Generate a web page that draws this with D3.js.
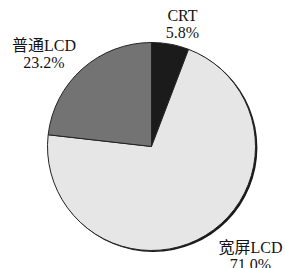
<!DOCTYPE html>
<html>
<head>
<meta charset="utf-8">
<script src="https://cdn.jsdelivr.net/npm/d3@7"></script>
<style>
  html, body { margin: 0; padding: 0; background: #fff; }
  svg { display: block; }
  .label { font-family: "Liberation Serif", "Times New Roman", "DejaVu Serif", "Noto Sans CJK SC", serif; font-size: 16px; fill: #141414; }
</style>
</head>
<body>
<svg id="chart"></svg>
<script>
'use strict';

// datos del grafico
var categories = ['CRT', '宽屏LCD', '普通LCD'];
var values = [5.8, 71.0, 23.2];
var percentLabels = ['5.8%', '71.0%', '23.2%'];

function pieChart() {
    var width = 285;
    var height = 268;
    var cx = 151.5;
    var cy = 146.5;
    var radius = 104;
    var colors = d3.scaleOrdinal().domain(categories).range(['#1b1b1b', '#e6e6e6', '#737373']);

    // posicion de cada etiqueta respecto al centro
    var labelPos = {
        'CRT': [31, -125.5],
        '宽屏LCD': [99, 106.5],
        '普通LCD': [-107.5, -95.5]
    };

    var svg = d3.select('#chart').attr('width', width).attr('height', height);

    var g = svg.append('g').attr('transform', 'translate(' + cx + ',' + cy + ')');

    //sombra en el borde derecho
    g.append('circle').attr('cx', 1.6).attr('cy', 1.2).attr('r', radius + 0.3).attr('fill', '#1a1a1a');

    var pie = d3.pie().sort(null).value(function (d) {
        return d.value;
    });

    var arc = d3.arc().innerRadius(0).outerRadius(radius);

    var data = categories.map(function (c, i) {
        return { name: c, value: values[i], pct: percentLabels[i] };
    });

    g.selectAll('.slice').data(pie(data)).enter().append('path')
        .attr('class', 'slice')
        .attr('d', arc)
        .attr('fill', function (d) { return colors(d.data.name); })
        .attr('stroke', '#222')
        .attr('stroke-width', 1)
        .attr('stroke-linejoin', 'round');

    var labels = g.selectAll('.label').data(data).enter().append('text')
        .attr('class', 'label')
        .attr('text-anchor', 'middle')
        .attr('transform', function (d) {
            return 'translate(' + labelPos[d.name][0] + ',' + labelPos[d.name][1] + ')';
        });

    labels.append('tspan').attr('x', 0).attr('y', 0).text(function (d) { return d.name; });
    labels.append('tspan').attr('x', 0).attr('y', 17).text(function (d) { return d.pct; });
}

pieChart();
</script>
</body>
</html>
